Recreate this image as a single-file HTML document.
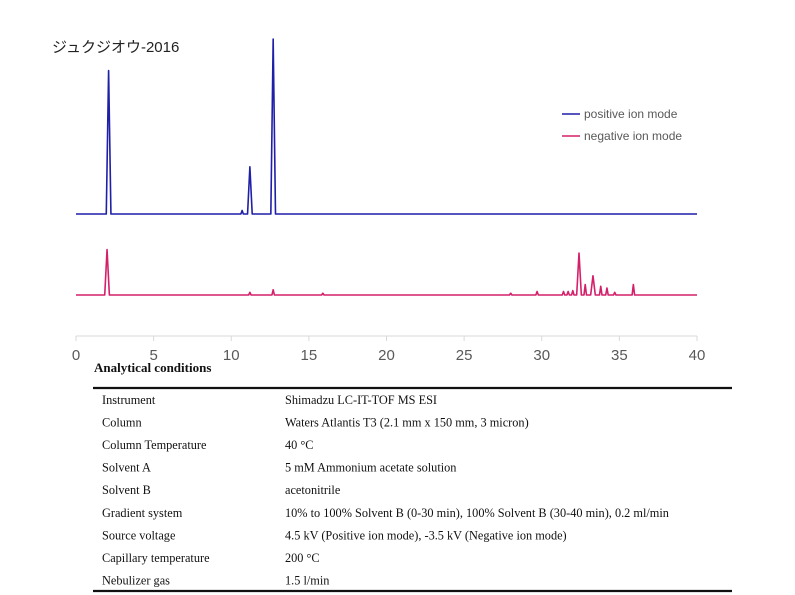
<!DOCTYPE html>
<html><head><meta charset="utf-8"><style>
body{margin:0;background:#fff;width:795px;height:595px;overflow:hidden}
svg{display:block}
.tk{font-family:"Liberation Sans",sans-serif;font-size:15px;fill:#595959}
.tb{font-family:"Liberation Serif",serif;font-size:12.3px;fill:#111}
</style></head><body>
<svg width="795" height="595">
<text x="52" y="52" style="font-family:'Liberation Sans','Noto Sans CJK JP',sans-serif;font-size:15px;fill:#222">ジュクジオウ-2016</text>
<g id="axis"></g>
<g id="series"></g>
<g>
<line x1="562" y1="114" x2="580" y2="114" stroke="#1f1fa8" stroke-width="1.5"/>
<text x="584" y="118" style="font-family:'Liberation Sans',sans-serif;font-size:12px;fill:#595959">positive ion mode</text>
<line x1="562" y1="136" x2="580" y2="136" stroke="#d4206a" stroke-width="1.5"/>
<text x="584" y="140" style="font-family:'Liberation Sans',sans-serif;font-size:12px;fill:#595959">negative ion mode</text>
</g>
<text x="94" y="372" style="font-family:'Liberation Serif',serif;font-size:13px;font-weight:bold;fill:#111">Analytical conditions</text>
<line x1="93" y1="388" x2="732" y2="388" stroke="#111" stroke-width="2.2"/>
<line x1="93" y1="591" x2="732" y2="591" stroke="#111" stroke-width="2.2"/>
<g id="rows"></g>
</svg>
<script>
const ticks=[0,5,10,15,20,25,30,35,40];
const posTimes=[2.1,10.7,11.2,12.7];
const posHeights=[82,2,27,100];
const negTimes=[2.0,11.2,12.7,15.9,28.0,29.7,31.4,31.7,32.0,32.4,32.8,33.3,33.8,34.2,34.7,35.9];
const negHeights=[26,1.5,3,1,1,2,2,2,2.5,24,6,11,5,4,1.5,6];
const rowLabels=["Instrument","Column","Column Temperature","Solvent A","Solvent B","Gradient system","Source voltage","Capillary temperature","Nebulizer gas"];
const rowValues=["Shimadzu LC-IT-TOF MS ESI","Waters Atlantis T3 (2.1 mm x 150 mm, 3 micron)","40 °C","5 mM Ammonium acetate solution","acetonitrile","10% to 100% Solvent B (0-30 min), 100% Solvent B (30-40 min), 0.2 ml/min","4.5 kV (Positive ion mode), -3.5 kV (Negative ion mode)","200 °C","1.5 l/min"];
const NS="http://www.w3.org/2000/svg";
const xs=t=>76+t*(697-76)/40;
const ys=(base,v)=>base-v*1.75;
function mk(tag,attrs,parent){const e=document.createElementNS(NS,tag);for(const k in attrs)e.setAttribute(k,attrs[k]);parent.appendChild(e);return e;}
const ax=document.getElementById('axis');
const al=mk('line',{x1:xs(0),y1:336,x2:xs(40),y2:336,stroke:'#d9d9d9','stroke-width':1},ax);


ticks.forEach(t=>{
 const l=mk('line',{x1:xs(t),y1:336,x2:xs(t),y2:341,stroke:'#d9d9d9'},ax);
 
 
 const tx=mk('text',{x:xs(t),y:360,'text-anchor':'middle',class:'tk'},ax);
 tx.textContent=t;
 
 
});
function trace(times,heights,base,color,name){
 let pts=[[xs(0),base]];
 const idx=times.map((t,i)=>i).sort((a,b)=>times[a]-times[b]);
 idx.forEach(i=>{const t=times[i];const w=heights[i]>10?0.15:0.08;
  pts.push([xs(t-w),base]);pts.push([xs(t),ys(base,heights[i])]);pts.push([xs(t+w),base]);});
 pts.push([xs(40),base]);
 const p=mk('polyline',{points:pts.map(p=>p.join(',')).join(' '),fill:'none',stroke:color,'stroke-width':1.6,'stroke-linejoin':'round'},document.getElementById('series'));
 
 
}
trace(posTimes,posHeights,214,'#1f1fa8','positive-ion-trace');
trace(negTimes,negHeights,295,'#d4206a','negative-ion-trace');
const rg=document.getElementById('rows');
rowLabels.forEach((lab,i)=>{
 const y=404+i*22.55;
 const a=mk('text',{x:102,y:y,class:'tb'},rg);a.textContent=lab;
 
 
 const b=mk('text',{x:285,y:y,class:'tb'},rg);b.textContent=rowValues[i];
 
 
});
</script>
</body></html>
